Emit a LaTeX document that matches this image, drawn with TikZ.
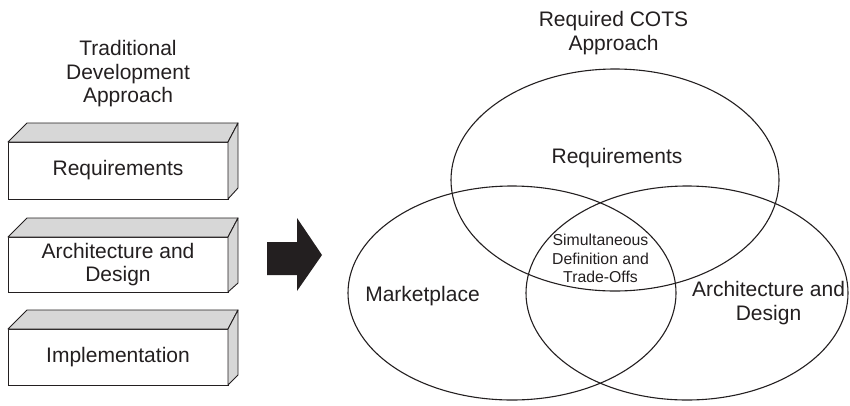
\documentclass[tikz,border=0pt]{standalone}
\usepackage{fontspec}
\setmainfont{Liberation Sans}
\definecolor{ink}{HTML}{231F20}
\definecolor{lidgray}{HTML}{D7D7D7}
\begin{document}
\begin{tikzpicture}[x=1pt,y=-1pt,
  lbl/.style={text=ink, align=center, inner sep=0pt, outer sep=0pt,
              font=\fontsize{21}{23.5}\selectfont},
  small/.style={lbl, font=\fontsize{15.8}{18.5}\selectfont},
  blockface/.style={lbl, draw=ink, line width=0.9pt, fill=white,
              minimum width=220pt},
  lid/.style={draw=ink, line width=0.9pt, fill=lidgray, line join=round},
  ring/.style={draw=ink, line width=1.1pt}]
\useasboundingbox (0,0) rectangle (850,405);

% headings
\node[lbl] (tradhead) at (128,74) {Traditional\\Development\\Approach};
\node[lbl] (cotshead) at (613.5,33) {Required COTS\\Approach};

% the three stacked blocks of the sequential approach
\node[blockface, minimum height=57pt] (reqbox)  at (118,170.5) {Requirements};
\node[blockface, minimum height=55pt] (archbox) at (118,264.5) {Architecture and\\Design};
\node[blockface, minimum height=56pt] (implbox) at (118,357)   {Implementation};
\foreach \b in {reqbox,archbox,implbox}{
  \draw[lid] (\b.north west) -- ++(19,-19) -- ++(211,0) -- (\b.north east) -- cycle;
  \draw[lid] (\b.north east) -- ++(10,-19) -- ++(0,65) -- (\b.south east) -- cycle;
}

% block arrow
\fill[ink] (267,242) -- (297,242) -- (297,218) -- (322,255) -- (297,291)
  -- (297,275) -- (267,275) -- cycle;

% overlapping ellipses
\draw[ring] (615,180) ellipse [x radius=164pt, y radius=111pt];
\draw[ring] (512,293) ellipse [x radius=164pt, y radius=107pt];
\draw[ring] (687,293) ellipse [x radius=161pt, y radius=107pt];

\node[lbl] (reqset)  at (617,158)   {Requirements};
\node[lbl] (mktset)  at (422.5,296) {Marketplace};
\node[lbl] (archset) at (768.5,303) {Architecture and\\Design};
\node[small] (core)  at (600.5,258.5) {Simultaneous\\Definition and\\Trade-Offs};
\end{tikzpicture}
\end{document}
